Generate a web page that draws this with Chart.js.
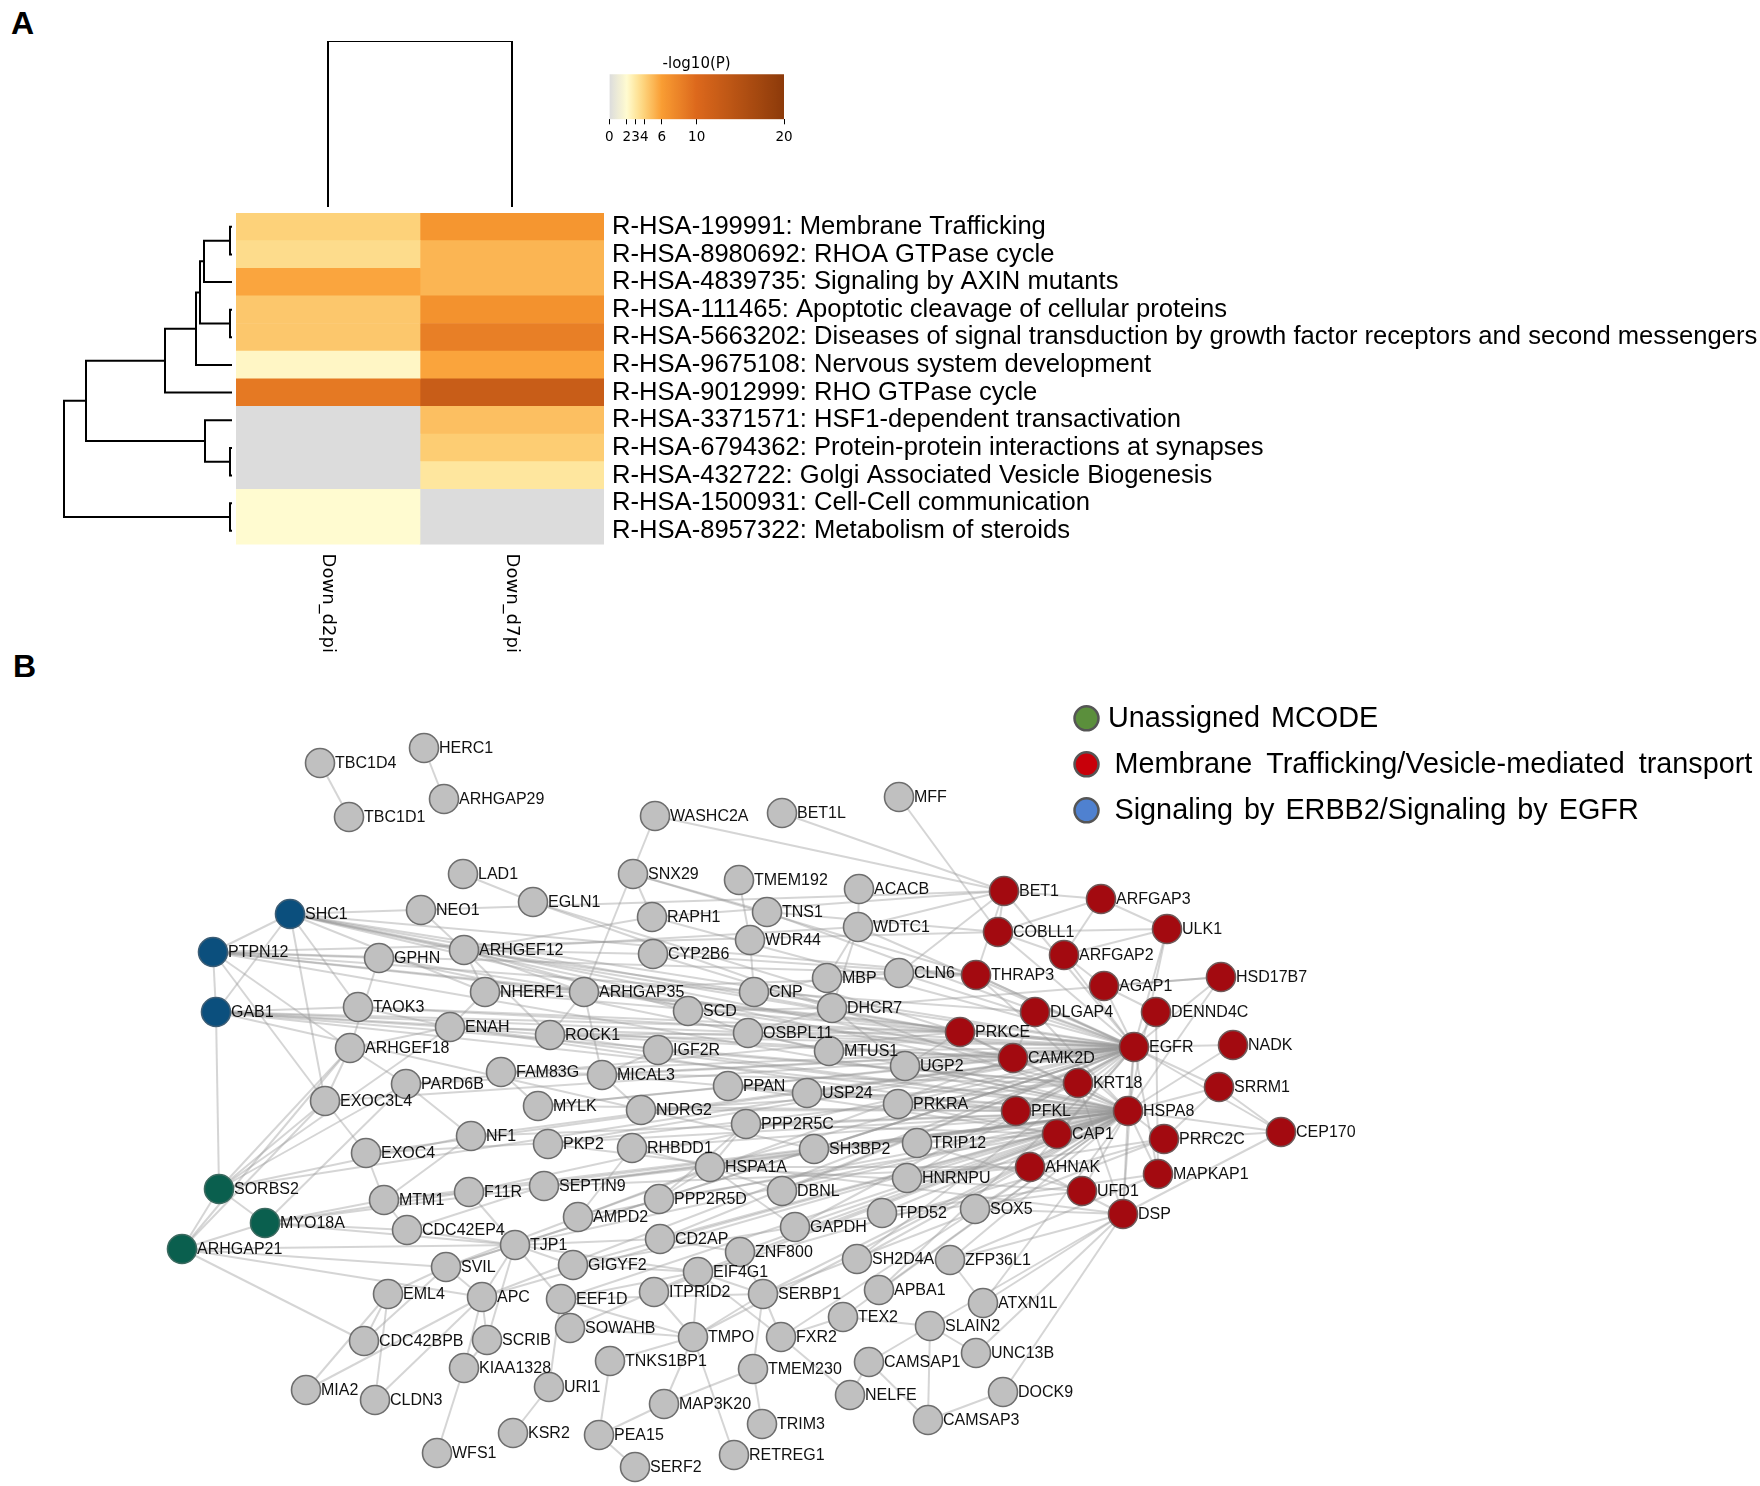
<!DOCTYPE html>
<html><head><meta charset="utf-8">
<script src="https://cdn.jsdelivr.net/npm/chart.js@4"></script>
<style>
html,body{margin:0;padding:0;background:#fff;}
body{width:1760px;height:1486px;position:relative;overflow:hidden;}
.box{position:absolute;}
.panel{position:absolute;font:bold 32px "Liberation Sans",Arial,sans-serif;line-height:32px;color:#000;}
</style></head><body>
<div class="panel" style="left:11px;top:7px">A</div>
<div class="panel" style="left:13px;top:650px">B</div>
<div class="box" style="left:236px;top:40.8px;width:368px;height:166.7px"><canvas id="dendCol"></canvas></div>
<div class="box" style="left:60px;top:212.6px;width:176px;height:331.6px"><canvas id="dendRow"></canvas></div>
<div class="box" style="left:236px;top:212.6px;width:1524px;height:441.6px"><canvas id="heat"></canvas></div>
<div class="box" style="left:590px;top:40px;width:215px;height:109.3px"><canvas id="cbar"></canvas></div>
<div class="box" style="left:0px;top:700px;width:1760px;height:786px"><canvas id="net"></canvas></div>
<script>
// ---------------- DATA ----------------
const rowLabels = [
 "R-HSA-199991: Membrane Trafficking",
 "R-HSA-8980692: RHOA GTPase cycle",
 "R-HSA-4839735: Signaling by AXIN mutants",
 "R-HSA-111465: Apoptotic cleavage of cellular proteins",
 "R-HSA-5663202: Diseases of signal transduction by growth factor receptors and second messengers",
 "R-HSA-9675108: Nervous system development",
 "R-HSA-9012999: RHO GTPase cycle",
 "R-HSA-3371571: HSF1-dependent transactivation",
 "R-HSA-6794362: Protein-protein interactions at synapses",
 "R-HSA-432722: Golgi Associated Vesicle Biogenesis",
 "R-HSA-1500931: Cell-Cell communication",
 "R-HSA-8957322: Metabolism of steroids"];
const colLabels = ["Down_d2pi","Down_d7pi"];
const valD2pi = [4.0, 3.55, 5.7, 4.4, 4.4, 2.25, 8.7, 0, 0, 0, 2.0, 2.0];
const valD7pi = [6.5, 5.1, 5.1, 6.8, 8.3, 5.75, 12.5, 4.7, 4.2, 3.1, 0, 0];
const colorbarTicks = [0, 2, 3, 4, 6, 10, 20];
const colorbarMax = 20;
const cmapValues = [0, 2, 3, 4, 6, 10, 20];
const cmapColors = ['#dcdcdc','#fffbd0','#fee8a2','#fdd27a','#f99d33','#dc681c','#8c3a0a'];
// linkage: [childA, childB, height]; leaves 0..n-1, clusters n..
const rowLinkage = [[0,1,0.02],[12,2,0.28],[3,4,0.02],[13,14,0.32],[15,5,0.36],[16,6,0.67],[8,9,0.02],[7,18,0.27],[17,19,1.46],[10,11,0.02],[20,21,1.68]];
const colLinkage = [[0,1,1.0]];

const clusterNames = ["Unassigned MCODE","Membrane Trafficking/Vesicle-mediated transport","Signaling by ERBB2/Signaling by EGFR"];
const nodeNames = ["TBC1D4","HERC1","ARHGAP29","TBC1D1","WASHC2A","BET1L","MFF","LAD1","SNX29","TMEM192","ACACB","EGLN1","NEO1","RAPH1","TNS1","WDTC1","WDR44","GPHN","ARHGEF12","CYP2B6","MBP","CLN6","NHERF1","ARHGAP35","CNP","DHCR7","SCD","TAOK3","ENAH","ROCK1","OSBPL11","ARHGEF18","IGF2R","MTUS1","UGP2","FAM83G","MICAL3","PARD6B","PPAN","USP24","PRKRA","EXOC3L4","MYLK","NDRG2","PPP2R5C","NF1","PKP2","RHBDD1","SH3BP2","TRIP12","EXOC4","HSPA1A","MTM1","F11R","SEPTIN9","DBNL","HNRNPU","PPP2R5D","AMPD2","TPD52","SOX5","GAPDH","CDC42EP4","TJP1","CD2AP","ZNF800","SH2D4A","ZFP36L1","SVIL","GIGYF2","EIF4G1","EML4","APC","EEF1D","ITPRID2","SERBP1","APBA1","ATXN1L","TEX2","SLAIN2","SOWAHB","TMPO","FXR2","CDC42BPB","SCRIB","UNC13B","TNKS1BP1","TMEM230","CAMSAP1","KIAA1328","URI1","NELFE","MIA2","CLDN3","DOCK9","MAP3K20","CAMSAP3","KSR2","PEA15","TRIM3","WFS1","SERF2","RETREG1",
 "BET1","ARFGAP3","COBLL1","ULK1","ARFGAP2","THRAP3","HSD17B7","AGAP1","DLGAP4","DENND4C","PRKCE","CAMK2D","EGFR","NADK","KRT18","SRRM1","PFKL","HSPA8","CAP1","PRRC2C","CEP170","AHNAK","MAPKAP1","UFD1","DSP",
 "SHC1","PTPN12","GAB1","SORBS2","MYO18A","ARHGAP21"];
const nodeX = [320,424,444,349,655,782,899,463,633,739,859,533,421,652,767,858,750,379,464,653,827,899,485,584,754,832,688,358,450,550,748,350,658,829,905,501,602,406,728,807,898,325,538,641,746,471,548,632,814,917,366,710,384,469,544,782,907,659,578,882,975,795,407,515,660,740,857,950,446,573,698,388,482,561,654,763,879,983,843,930,570,693,781,364,487,976,610,753,869,464,549,850,306,375,1003,664,928,513,599,762,437,635,734,
 1004,1101,998,1167,1064,976,1221,1104,1035,1156,960,1013,1134,1233,1078,1219,1016,1128,1057,1164,1281,1030,1158,1082,1123,
 290,213,216,219,265,182];
const nodeY = [763,748,799,817,816,813,797,874,874,880,889,902,910,917,912,927,940,958,950,954,978,973,992,992,992,1008,1011,1007,1027,1035,1033,1048,1050,1051,1066,1072,1075,1084,1086,1093,1104,1101,1106,1110,1124,1136,1144,1148,1149,1143,1153,1167,1200,1192,1186,1191,1178,1199,1217,1213,1209,1227,1230,1245,1239,1252,1259,1260,1267,1265,1272,1294,1297,1299,1292,1294,1290,1303,1317,1326,1328,1337,1337,1341,1340,1353,1361,1369,1362,1368,1387,1395,1390,1400,1392,1404,1420,1433,1435,1424,1453,1467,1455,
 891,899,932,929,955,975,977,986,1012,1012,1032,1058,1047,1045,1083,1087,1111,1111,1134,1139,1132,1167,1174,1191,1214,
 914,952,1012,1189,1223,1249];
// 0 = no cluster (gray), 1 = membrane trafficking (red), 2 = ERBB2/EGFR (blue), 3 = unassigned MCODE (green)
const nodeCluster = nodeNames.map((n,i)=> i<103 ? 0 : i<128 ? 1 : i<131 ? 2 : 3);
const edges = [
['TBC1D4','TBC1D1'],['HERC1','ARHGAP29'],['LAD1','EGLN1'],
['WASHC2A','ARHGAP35'],['WASHC2A','BET1'],['BET1L','BET1'],['MFF','COBLL1'],
['SNX29','THRAP3'],['SNX29','RAPH1'],['TMEM192','WDR44'],['WDR44','CNP'],['ACACB','WDTC1'],
['WDTC1','MBP'],['WDTC1','DHCR7'],['WDTC1','BET1'],['WDTC1','EGFR'],['WDTC1','ARHGEF12'],
['TNS1','EGFR'],['TNS1','COBLL1'],['TNS1','SNX29'],['RAPH1','ARHGEF12'],['RAPH1','EGFR'],['RAPH1','BET1'],
['CYP2B6','DHCR7'],['CYP2B6','ARHGEF12'],['CYP2B6','THRAP3'],['NEO1','ARHGEF12'],['EGLN1','PRKCE'],['EGLN1','HSPA8'],
['MBP','CLN6'],['MBP','CNP'],['CLN6','EGFR'],['CLN6','BET1'],['DHCR7','SCD'],['DHCR7','UGP2'],['DHCR7','HSD17B7'],
['SCD','OSBPL11'],['SCD','ARHGEF12'],['OSBPL11','MTUS1'],['OSBPL11','DHCR7'],
['SHC1','PTPN12'],['SHC1','GAB1'],['SHC1','EGFR'],['SHC1','ARHGEF12'],['SHC1','PRKCE'],['SHC1','HSPA8'],['SHC1','BET1'],['SHC1','THRAP3'],['SHC1','CAMK2D'],['SHC1','KRT18'],['SHC1','NHERF1'],['SHC1','TAOK3'],['SHC1','EXOC3L4'],
['PTPN12','GAB1'],['PTPN12','EGFR'],['PTPN12','GPHN'],['PTPN12','COBLL1'],['PTPN12','ARHGEF18'],['PTPN12','EXOC3L4'],['PTPN12','PRKCE'],['PTPN12','HSPA8'],['PTPN12','THRAP3'],['PTPN12','DLGAP4'],
['GAB1','EGFR'],['GAB1','SORBS2'],['GAB1','ENAH'],['GAB1','TAOK3'],['GAB1','HSPA8'],['GAB1','CAMK2D'],['GAB1','PRKCE'],['GAB1','KRT18'],['GAB1','SH3BP2'],
['SORBS2','ARHGAP21'],['SORBS2','MYO18A'],['SORBS2','ARHGEF18'],['SORBS2','PARD6B'],['SORBS2','EXOC3L4'],['SORBS2','NF1'],['SORBS2','EGFR'],['SORBS2','ENAH'],
['ARHGAP21','MYO18A'],['ARHGAP21','SVIL'],['ARHGAP21','TJP1'],['ARHGAP21','CDC42BPB'],['ARHGAP21','APC'],['ARHGAP21','EXOC3L4'],['ARHGAP21','ARHGEF18'],
['MYO18A','MTM1'],['MYO18A','F11R'],['MYO18A','TJP1'],['MYO18A','CDC42EP4'],['MYO18A','HSPA8'],['MYO18A','PARD6B'],
['ARHGEF12','ARHGAP35'],['ARHGEF12','NHERF1'],['ARHGEF12','EGFR'],['ARHGEF12','PRKCE'],['ARHGEF12','ROCK1'],
['GPHN','HSPA8'],['GPHN','ARHGEF18'],['GPHN','CAMK2D'],
['NHERF1','EGFR'],['NHERF1','ENAH'],['NHERF1','ARHGAP35'],['NHERF1','THRAP3'],
['ARHGAP35','ROCK1'],['ARHGAP35','MICAL3'],['ARHGAP35','EGFR'],
['TAOK3','ENAH'],['TAOK3','EGFR'],['TAOK3','PRKCE'],
['ENAH','ROCK1'],['ENAH','EGFR'],['ENAH','ARHGEF18'],['ENAH','HSPA8'],['ENAH','PFKL'],
['ROCK1','IGF2R'],['ROCK1','EGFR'],['ROCK1','PRKCE'],['ROCK1','CAMK2D'],
['IGF2R','HSPA8'],['IGF2R','MICAL3'],['IGF2R','KRT18'],
['MTUS1','EGFR'],['UGP2','EGFR'],['UGP2','HSPA8'],['UGP2','PRKCE'],
['FAM83G','EGFR'],['FAM83G','MYLK'],['FAM83G','KRT18'],
['MICAL3','NDRG2'],['MICAL3','EGFR'],['MICAL3','PFKL'],
['PARD6B','EGFR'],['PARD6B','NF1'],['PARD6B','PRKCE'],['PARD6B','ARHGEF18'],
['PPAN','USP24'],['PPAN','HSPA8'],['PPAN','CAP1'],['USP24','HSPA8'],['USP24','EGFR'],
['PRKRA','HSPA8'],['PRKRA','EGFR'],['PRKRA','CAP1'],
['EXOC3L4','EXOC4'],['EXOC3L4','ARHGEF18'],['EXOC3L4','EGFR'],
['MYLK','EGFR'],['MYLK','CAMK2D'],['MYLK','PFKL'],['NDRG2','HSPA8'],['NDRG2','KRT18'],
['PPP2R5C','HSPA8'],['PPP2R5C','PPP2R5D'],['PPP2R5C','HSPA1A'],['PPP2R5C','CAP1'],
['NF1','EGFR'],['NF1','HSPA8'],['NF1','MTM1'],['PKP2','EGFR'],['PKP2','DSP'],['PKP2','KRT18'],
['RHBDD1','HSPA1A'],['RHBDD1','HSPA8'],['RHBDD1','AMPD2'],['SH3BP2','EGFR'],['SH3BP2','HSPA8'],
['TRIP12','HSPA8'],['TRIP12','UFD1'],['TRIP12','CAP1'],['EXOC4','HSPA8'],['EXOC4','EGFR'],['EXOC4','MTM1'],
['HSPA1A','HSPA8'],['HSPA1A','DBNL'],['HSPA1A','EGFR'],['HSPA1A','GAPDH'],['HSPA1A','SEPTIN9'],['HSPA1A','UFD1'],['HSPA1A','AHNAK'],
['MTM1','F11R'],['MTM1','HSPA8'],['F11R','TJP1'],['F11R','HSPA8'],['F11R','EGFR'],
['SEPTIN9','HSPA8'],['SEPTIN9','CDC42EP4'],['SEPTIN9','AHNAK'],['DBNL','EGFR'],['DBNL','HSPA8'],
['HNRNPU','HSPA8'],['HNRNPU','EGFR'],['HNRNPU','PRRC2C'],['HNRNPU','AHNAK'],
['PPP2R5D','HSPA1A'],['PPP2R5D','CAP1'],['AMPD2','HSPA8'],['AMPD2','CAMK2D'],
['TPD52','HSPA8'],['TPD52','MAPKAP1'],['SOX5','DSP'],['SOX5','HSPA8'],
['GAPDH','HSPA8'],['GAPDH','EGFR'],['GAPDH','UFD1'],['CDC42EP4','TJP1'],['CDC42EP4','MTM1'],
['TJP1','APC'],['TJP1','SCRIB'],['TJP1','SVIL'],['TJP1','EGFR'],['TJP1','CD2AP'],['TJP1','HSPA8'],['TJP1','EIF4G1'],['TJP1','GIGYF2'],['TJP1','EEF1D'],
['CD2AP','EGFR'],['CD2AP','HSPA8'],['CD2AP','ZNF800'],['ZNF800','SERBP1'],['ZNF800','HSPA8'],
['SH2D4A','HSPA8'],['SH2D4A','EGFR'],['ZFP36L1','DSP'],['ZFP36L1','HSPA8'],['ZFP36L1','MAPKAP1'],
['SVIL','APC'],['SVIL','EGFR'],['SVIL','HSPA1A'],['GIGYF2','EIF4G1'],['GIGYF2','HSPA8'],['GIGYF2','GAPDH'],
['EIF4G1','SERBP1'],['EIF4G1','HSPA8'],['EIF4G1','PRRC2C'],['EIF4G1','FXR2'],['EIF4G1','EEF1D'],['EIF4G1','TMPO'],
['EML4','CDC42BPB'],['EML4','MIA2'],['EML4','SVIL'],
['APC','SCRIB'],['APC','KIAA1328'],['APC','CLDN3'],['APC','EGFR'],['APC','HSPA8'],
['EEF1D','SERBP1'],['EEF1D','TMPO'],['EEF1D','URI1'],['EEF1D','HSPA8'],['ITPRID2','TMPO'],['ITPRID2','HSPA8'],
['SERBP1','FXR2'],['SERBP1','TMEM230'],['SERBP1','HSPA8'],['SERBP1','PRRC2C'],['APBA1','HSPA8'],['APBA1','EGFR'],
['ATXN1L','DSP'],['ATXN1L','ZFP36L1'],['ATXN1L','HSPA8'],['TEX2','HSPA8'],['TEX2','FXR2'],
['SLAIN2','CAMSAP1'],['SLAIN2','CAMSAP3'],['SLAIN2','UNC13B'],['SLAIN2','DSP'],['SLAIN2','TEX2'],
['SOWAHB','TMPO'],['SOWAHB','EIF4G1'],['TMPO','MAP3K20'],['TMPO','RETREG1'],['TMPO','SERBP1'],['TMPO','HSPA8'],
['FXR2','NELFE'],['FXR2','HSPA8'],['CDC42BPB','SVIL'],['SCRIB','KIAA1328'],['TNKS1BP1','PEA15'],['TNKS1BP1','TMPO'],
['TMEM230','TRIM3'],['TMEM230','MAP3K20'],['CAMSAP1','CAMSAP3'],['CAMSAP1','NELFE'],['KIAA1328','WFS1'],['URI1','KSR2'],
['MIA2','APC'],['DOCK9','CAMSAP3'],['DOCK9','DSP'],['MAP3K20','PEA15'],['PEA15','SERF2'],['UNC13B','DSP'],['CLDN3','EML4'],
['BET1','ARFGAP3'],['BET1','COBLL1'],['BET1','EGFR'],['BET1','THRAP3'],['ARFGAP3','ULK1'],['ARFGAP3','ARFGAP2'],['ARFGAP3','COBLL1'],
['COBLL1','ARFGAP2'],['COBLL1','EGFR'],['COBLL1','ULK1'],['ULK1','ARFGAP2'],['ULK1','EGFR'],['ULK1','HSPA8'],
['ARFGAP2','AGAP1'],['ARFGAP2','EGFR'],['AGAP1','HSD17B7'],['AGAP1','DENND4C'],['AGAP1','EGFR'],['HSD17B7','EGFR'],['HSD17B7','HSPA8'],
['DLGAP4','EGFR'],['DLGAP4','CAMK2D'],['DLGAP4','HSPA8'],['DENND4C','EGFR'],['DENND4C','MAPKAP1'],
['THRAP3','HSPA8'],['THRAP3','EGFR'],['THRAP3','SRRM1'],['PRKCE','EGFR'],['PRKCE','HSPA8'],['PRKCE','CAMK2D'],['CAMK2D','EGFR'],['CAMK2D','HSPA8'],
['EGFR','NADK'],['EGFR','KRT18'],['EGFR','HSPA8'],['EGFR','CAP1'],['EGFR','AHNAK'],['EGFR','DSP'],['EGFR','CEP170'],['EGFR','MAPKAP1'],['EGFR','PFKL'],
['NADK','HSPA8'],['KRT18','HSPA8'],['KRT18','PFKL'],['KRT18','DSP'],
['HSPA8','SRRM1'],['HSPA8','CEP170'],['HSPA8','PRRC2C'],['HSPA8','CAP1'],['HSPA8','UFD1'],['HSPA8','DSP'],['HSPA8','MAPKAP1'],['HSPA8','PFKL'],['HSPA8','AHNAK'],
['PRRC2C','CEP170'],['PRRC2C','SRRM1'],['CEP170','DSP'],['CEP170','SRRM1'],['AHNAK','DSP']
];

// ---------------- HELPERS ----------------
function hex2rgb(h){return [parseInt(h.slice(1,3),16),parseInt(h.slice(3,5),16),parseInt(h.slice(5,7),16)];}
function cmap(v){
  if (v<=cmapValues[0]) return cmapColors[0];
  for (let i=1;i<cmapValues.length;i++){
    if (v<=cmapValues[i]){
      const t=(v-cmapValues[i-1])/(cmapValues[i]-cmapValues[i-1]);
      const a=hex2rgb(cmapColors[i-1]), b=hex2rgb(cmapColors[i]);
      return 'rgb('+a.map((c,k)=>Math.round(c+(b[k]-c)*t)).join(',')+')';
    }
  }
  return cmapColors[cmapColors.length-1];
}
function dendroLinks(link, nLeaves){
  const pos=[...Array(nLeaves).keys()], h=new Array(nLeaves).fill(0), segs=[];
  link.forEach(([a,b,ht])=>{
    segs.push([[h[a],pos[a]],[ht,pos[a]],[ht,pos[b]],[h[b],pos[b]]]);
    pos.push((pos[a]+pos[b])/2); h.push(ht);
  });
  return segs;
}
Chart.defaults.animation=false;
Chart.defaults.events=[];
Chart.defaults.layout.autoPadding=false;
Chart.defaults.plugins.legend.display=false;
Chart.defaults.plugins.tooltip.enabled=false;
Chart.defaults.color='#000';

// ---------------- COLUMN DENDROGRAM ----------------
new Chart(document.getElementById('dendCol'),{
  type:'scatter',
  data:{datasets:dendroLinks(colLinkage,2).map(s=>({
    data:s.map(([h,p])=>({x:p+0.5,y:h})), showLine:true, borderColor:'#000', borderWidth:2,
    pointRadius:0, clip:false, tension:0}))},
  options:{responsive:true,maintainAspectRatio:false,layout:{padding:0},
    scales:{x:{type:'linear',min:0,max:colLabels.length,display:false},
            y:{type:'linear',min:0,max:Math.max(...colLinkage.map(l=>l[2])),display:false}}}
});

// ---------------- ROW DENDROGRAM ----------------
new Chart(document.getElementById('dendRow'),{
  type:'scatter',
  data:{datasets:dendroLinks(rowLinkage,rowLabels.length).map(s=>({
    data:s.map(([h,p])=>({x:h,y:p})), showLine:true, borderColor:'#000', borderWidth:2,
    pointRadius:0, clip:false, tension:0}))},
  options:{responsive:true,maintainAspectRatio:false,layout:{padding:{left:4,right:4,top:0,bottom:0}},
    scales:{x:{type:'linear',min:0,max:Math.max(...rowLinkage.map(l=>l[2])),reverse:true,display:false},
            y:{type:'linear',min:-0.5,max:rowLabels.length-0.5,reverse:true,display:false}}}
});

// ---------------- HEATMAP ----------------
const colLabelPlugin={id:'colLabels',afterDraw(chart){
  const {ctx,chartArea,scales:{x}}=chart;
  ctx.save(); ctx.font='18px "DejaVu Sans"'; ctx.fillStyle='#000'; ctx.textAlign='left'; ctx.textBaseline='middle';
  colLabels.forEach((l,i)=>{ctx.save(); ctx.translate(x.getPixelForValue(i+0.5),chartArea.bottom+9); ctx.rotate(Math.PI/2); ctx.fillText(l,0,0); ctx.restore();});
  ctx.restore();
}};
new Chart(document.getElementById('heat'),{
  type:'bar',
  data:{labels:rowLabels,datasets:[valD2pi,valD7pi].map((vals,ci)=>({
    label:colLabels[ci], data:vals.map(()=>[ci,ci+1]), backgroundColor:vals.map(cmap),
    borderWidth:0, grouped:false, barPercentage:1, categoryPercentage:1}))},
  options:{indexAxis:'y',responsive:true,maintainAspectRatio:false,
    layout:{padding:{left:0,right:0,top:0,bottom:110}},
    scales:{
      x:{type:'linear',min:0,max:colLabels.length,display:false},
      y:{type:'category',position:'right',grid:{display:false,drawTicks:false},border:{display:false},
         ticks:{font:{family:'"Liberation Sans", Arial, sans-serif',size:25.6},color:'#000',padding:8,autoSkip:false},
         afterFit:(s)=>{s.width=1156; s.paddingTop=0; s.paddingBottom=0;}}
    }},
  plugins:[colLabelPlugin]
});

// ---------------- COLORBAR ----------------
new Chart(document.getElementById('cbar'),{
  type:'bar',
  data:{labels:['-log10(P)'],datasets:[{data:[[0,colorbarMax]],barPercentage:1,categoryPercentage:1,borderWidth:0,
    backgroundColor:(c)=>{
      const ch=c.chart, xs=ch.scales.x; if(!xs||!ch.chartArea) return cmapColors[0];
      const x0=xs.getPixelForValue(0), x1=xs.getPixelForValue(colorbarMax);
      const g=ch.ctx.createLinearGradient(x0,0,x1,0);
      for(let v=0;v<=colorbarMax;v+=0.25){g.addColorStop(v/colorbarMax,cmap(v));}
      return g;}}]},
  options:{indexAxis:'y',responsive:true,maintainAspectRatio:false,
    layout:{padding:{left:19.3,right:21,top:0,bottom:0}},
    plugins:{title:{display:true,text:'-log10(P)',color:'#000',font:{family:'DejaVu Sans',size:15,weight:'normal'},padding:{top:15,bottom:1.3}}},
    scales:{
      y:{type:'category',display:false},
      x:{type:'linear',min:0,max:colorbarMax,position:'bottom',
         afterBuildTicks:(s)=>{s.ticks=colorbarTicks.map(v=>({value:v}));},
         grid:{display:true,drawOnChartArea:false,drawTicks:true,tickLength:5,color:'#000',lineWidth:1},
         border:{display:false},
         ticks:{font:{family:'DejaVu Sans',size:13.5},color:'#000',padding:5,autoSkip:false,maxRotation:0},
         afterFit:(s)=>{s.height=30; s.paddingLeft=0; s.paddingRight=0;}}
    }}
});

// ---------------- NETWORK ----------------
const nodeFill=['#c0c0c0','#a30a10','#0b4f7d','#0a5f4e'];
const nodeStroke=['#6e6e6e','#6e5858','#3c5d75','#3c6a60'];
const legendFill=['#5b8f3c','#c8000a','#4f81d0'];
const idx={}; nodeNames.forEach((n,i)=>idx[n]=i);
const edgeSets=edges.filter(([a,b])=>a in idx && b in idx).map(([a,b])=>({
  type:'scatter',data:[{x:nodeX[idx[a]],y:nodeY[idx[a]]},{x:nodeX[idx[b]],y:nodeY[idx[b]]}],
  showLine:true,borderColor:'rgba(150,150,150,0.4)',borderWidth:2,pointRadius:0,order:10,clip:false}));
const nodeSets=[0,1,2,3].map(g=>{
  const ids=nodeNames.map((n,i)=>i).filter(i=>nodeCluster[i]===g);
  return {data:ids.map(i=>({x:nodeX[i],y:nodeY[i],name:nodeNames[i]})),pointRadius:14.5,pointBorderWidth:1.6,
    pointBackgroundColor:nodeFill[g],pointBorderColor:nodeStroke[g],showLine:false,order:0,clip:false};
});
const netLabels={id:'netLabels',afterDatasetsDraw(chart){
  const ctx=chart.ctx; ctx.save(); ctx.font='16px "Liberation Sans", Arial, sans-serif'; ctx.fillStyle='#111';
  ctx.textAlign='left'; ctx.textBaseline='middle';
  chart.data.datasets.forEach((ds,di)=>{ if(ds.order!==0) return;
    chart.getDatasetMeta(di).data.forEach((el,k)=>{ctx.fillText(ds.data[k].name,el.x+15,el.y+1);});});
  ctx.restore();
}};
const netLegend={id:'netLegend',afterDraw(chart,args,opts){
  const ctx=chart.ctx; ctx.save(); ctx.font='28.8px "Liberation Sans", Arial, sans-serif'; ctx.textBaseline='middle'; ctx.fillStyle='#000';
  const ys=chart.scales.y;
  clusterNames.forEach((t,i)=>{
    const cy=ys.getPixelForValue(opts.y0+i*opts.dy);
    ctx.beginPath(); ctx.arc(opts.cx,cy,12,0,Math.PI*2); ctx.fillStyle=legendFill[i]; ctx.fill();
    ctx.lineWidth=2.5; ctx.strokeStyle='#555'; ctx.stroke();
    if('wordSpacing' in ctx) ctx.wordSpacing=opts.ws[i]+'px';
    ctx.fillStyle='#000'; ctx.fillText(t, i===0?opts.tx0:opts.tx, cy+1);
  });
  ctx.restore();
}};
new Chart(document.getElementById('net'),{
  type:'scatter',
  data:{datasets:[...nodeSets,...edgeSets]},
  options:{responsive:true,maintainAspectRatio:false,layout:{padding:0,autoPadding:false},
    scales:{x:{type:'linear',min:0,max:1760,display:false},y:{type:'linear',min:700,max:1486,reverse:true,display:false}},
    plugins:{netLegend:{cx:1086.5,y0:718.3,dy:46,tx0:1108,tx:1114.5,ws:[3,6,3]}}},
  plugins:[netLabels,netLegend]
});
</script>
</body></html>
